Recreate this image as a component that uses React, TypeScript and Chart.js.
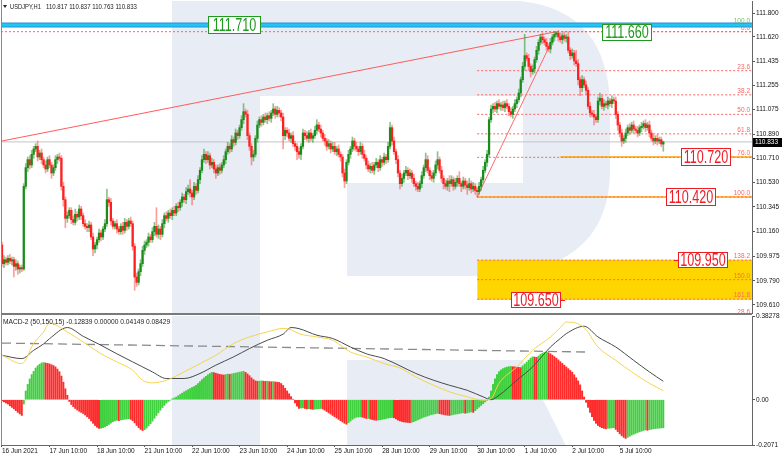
import React, { useEffect, useRef } from "react";
import { Chart, registerables } from "chart.js";

Chart.register(...registerables);

const FONT = '"Liberation Sans", Arial, Helvetica, sans-serif';

// ---------- x axis (hourly candles, index based) ----------
const xTickIdx = [0, 24, 48, 72, 96, 120, 144, 168, 192, 216, 240, 264, 288, 312];
const xTickLabels = [
  "16 Jun 2021", "17 Jun 10:00", "18 Jun 10:00", "21 Jun 10:00", "22 Jun 10:00",
  "23 Jun 10:00", "24 Jun 10:00", "25 Jun 10:00", "28 Jun 10:00", "29 Jun 10:00",
  "30 Jun 10:00", "1 Jul 10:00", "2 Jul 10:00", "5 Jul 10:00",
];
const X_MIN = -0.5;
const X_MAX = 378.8;

// ---------- price axis ----------
const priceTicks = [111.8, 111.62, 111.435, 111.255, 111.075, 110.89, 110.71, 110.53, 110.345, 110.16, 109.975, 109.79, 109.61];
const PRICE_MIN = 109.55;
const PRICE_MAX = 111.89;

// ---------- header ----------
const symbolLabel = "USDJPY,H1";
const lastOHLC = ["110.817", "110.837", "110.763", "110.833"];
const bidPrice = 110.833;

// ---------- candles ----------
const firstOpen = 110.06;
const closes = [
  109.92, 109.95, 109.93, 109.96, 109.94, 109.95, 109.90, 109.92, 109.88, 109.89, 109.88, 110.50, 110.64, 110.70, 110.66, 110.74, 110.78, 110.80, 110.72, 110.75, 110.70, 110.66, 110.63, 110.70,
  110.66, 110.60, 110.64, 110.70, 110.72, 110.71, 110.50, 110.40, 110.26, 110.28, 110.32, 110.25, 110.23, 110.29, 110.27, 110.33, 110.28, 110.22, 110.20, 110.19, 110.21, 110.12, 110.03, 110.06,
  110.10, 110.15, 110.12, 110.18, 110.22, 110.40, 110.38, 110.24, 110.20, 110.22, 110.18, 110.16, 110.20, 110.17, 110.23, 110.20, 110.24, 110.22, 110.05, 109.82, 109.78, 109.86, 109.92, 110.02,
  110.06, 110.08, 110.12, 110.10, 110.16, 110.20, 110.14, 110.18, 110.14, 110.22, 110.28, 110.26, 110.30, 110.28, 110.32, 110.30, 110.35, 110.34, 110.38, 110.42, 110.40, 110.46, 110.48, 110.45,
  110.42, 110.50, 110.47, 110.55, 110.62, 110.70, 110.74, 110.70, 110.73, 110.66, 110.68, 110.63, 110.60, 110.64, 110.62, 110.66, 110.70, 110.76, 110.80, 110.78, 110.85, 110.83, 110.90, 110.88,
  110.94, 111.00, 111.06, 111.04, 110.88, 110.80, 110.72, 110.74, 110.86, 110.96, 111.00, 110.98, 111.02, 111.00, 111.03, 111.01, 111.05, 111.08, 111.04, 111.07, 111.05, 111.02, 110.88, 110.92,
  110.90, 110.86, 110.88, 110.82, 110.80, 110.76, 110.74, 110.80, 110.90, 110.88, 110.86, 110.90, 110.86, 110.88, 110.92, 110.96, 110.93, 110.90, 110.86, 110.84, 110.80, 110.82, 110.78, 110.80,
  110.76, 110.78, 110.74, 110.72, 110.60, 110.54, 110.68, 110.74, 110.78, 110.84, 110.80, 110.78, 110.76, 110.80, 110.74, 110.71, 110.66, 110.63, 110.65, 110.62, 110.66, 110.68, 110.64, 110.70,
  110.68, 110.72, 110.70, 110.80, 110.94, 110.84, 110.76, 110.70, 110.60, 110.52, 110.56, 110.60, 110.62, 110.58, 110.60, 110.56, 110.52, 110.50, 110.48, 110.52, 110.58, 110.64, 110.70, 110.62,
  110.58, 110.56, 110.60, 110.66, 110.70, 110.62, 110.56, 110.52, 110.50, 110.54, 110.52, 110.55, 110.50, 110.53, 110.56, 110.52, 110.50, 110.54, 110.51, 110.49, 110.52, 110.48, 110.50, 110.47,
  110.46, 110.50, 110.55, 110.62, 110.68, 110.74, 111.00, 111.08, 111.10, 111.08, 111.12, 111.10, 111.11, 111.09, 111.12, 111.10, 111.06, 111.04, 111.08, 111.12, 111.15, 111.20, 111.30, 111.40,
  111.48, 111.46, 111.40, 111.36, 111.38, 111.45, 111.52, 111.58, 111.62, 111.60, 111.58, 111.55, 111.53, 111.58, 111.62, 111.64, 111.65, 111.62, 111.60, 111.63, 111.61, 111.62, 111.52, 111.48,
  111.50, 111.44, 111.42, 111.30, 111.24, 111.30, 111.26, 111.22, 111.10, 111.05, 111.04, 111.02, 111.00, 111.14, 111.16, 111.10, 111.12, 111.11, 111.14, 111.12, 111.15, 111.14, 111.04, 110.96,
  110.90, 110.84, 110.86, 110.90, 110.94, 110.92, 110.96, 110.93, 110.92, 110.90, 110.94, 110.95, 110.97, 110.94, 110.96, 110.90, 110.86, 110.84, 110.86, 110.84, 110.85, 110.817, 110.833,
];
// wick lengths beyond the body, in 0.01 yen
const wickUp = [
  2, 3, 2, 2, 3, 2, 2, 3, 2, 2, 2, 2, 3, 2, 3, 3, 2, 2, 4, 2, 3, 2, 3, 2,
  3, 2, 2, 3, 2, 3, 2, 3, 2, 3, 2, 2, 3, 4, 2, 3, 2, 2, 3, 2, 3, 2, 3, 2,
  2, 3, 2, 2, 3, 8, 2, 3, 2, 2, 3, 2, 2, 3, 3, 2, 2, 3, 2, 2, 3, 2, 3, 3,
  3, 2, 3, 2, 3, 3, 14, 3, 2, 3, 2, 3, 2, 3, 2, 3, 2, 3, 2, 3, 2, 3, 3, 7,
  2, 3, 2, 3, 2, 3, 4, 2, 3, 2, 3, 2, 3, 2, 3, 2, 3, 2, 3, 2, 3, 2, 3, 2,
  2, 3, 6, 2, 3, 2, 2, 3, 2, 3, 2, 3, 2, 3, 2, 3, 2, 4, 2, 3, 2, 2, 3, 2,
  2, 3, 2, 3, 2, 2, 3, 2, 3, 2, 3, 2, 3, 2, 3, 4, 2, 3, 2, 3, 2, 3, 2, 3,
  3, 2, 3, 2, 2, 3, 2, 3, 2, 3, 2, 3, 2, 3, 2, 3, 2, 3, 2, 3, 2, 3, 2, 3,
  2, 3, 2, 3, 4, 2, 3, 2, 3, 2, 3, 2, 3, 2, 3, 2, 3, 2, 3, 2, 3, 2, 5, 3,
  2, 3, 2, 3, 6, 2, 3, 2, 3, 2, 4, 3, 2, 3, 2, 5, 2, 3, 2, 3, 4, 2, 3, 2,
  2, 3, 2, 3, 2, 3, 2, 3, 2, 3, 2, 3, 2, 3, 2, 3, 2, 3, 2, 3, 2, 3, 2, 3,
  16, 2, 3, 2, 3, 2, 3, 2, 2, 3, 2, 3, 2, 3, 2, 2, 1, 2, 3, 2, 3, 2, 4, 2,
  3, 2, 8, 3, 2, 3, 2, 3, 2, 3, 2, 3, 2, 3, 4, 2, 3, 2, 3, 2, 3, 2, 3, 2,
  2, 3, 2, 3, 2, 3, 2, 3, 2, 3, 2, 3, 2, 3, 2, 3, 2, 3, 2, 3, 2, 2, 0.4,
];
const wickDown = [
  2, 3, 2, 2, 2, 3, 8, 3, 4, 3, 2, 1, 2, 3, 3, 2, 3, 2, 3, 2, 3, 2, 3, 2,
  2, 4, 2, 2, 3, 2, 3, 5, 7, 3, 2, 3, 2, 2, 3, 2, 3, 2, 2, 3, 3, 2, 5, 3,
  3, 2, 3, 2, 2, 2, 3, 3, 2, 2, 3, 2, 2, 3, 2, 3, 2, 2, 3, 10, 3, 2, 3, 2,
  3, 2, 3, 2, 2, 3, 2, 3, 4, 2, 3, 2, 3, 2, 3, 2, 2, 3, 2, 3, 2, 3, 2, 3,
  6, 2, 3, 2, 3, 2, 2, 3, 2, 3, 2, 3, 4, 2, 3, 2, 2, 3, 2, 3, 2, 3, 2, 3,
  2, 2, 3, 2, 3, 3, 6, 3, 2, 3, 2, 3, 2, 2, 3, 2, 3, 2, 3, 2, 3, 3, 10, 3,
  3, 2, 3, 2, 3, 6, 3, 4, 2, 3, 2, 3, 2, 3, 2, 3, 2, 3, 2, 3, 3, 2, 3, 2,
  2, 3, 2, 3, 3, 5, 2, 2, 3, 2, 3, 2, 3, 2, 3, 2, 3, 2, 3, 2, 3, 2, 3, 2,
  3, 2, 3, 2, 2, 3, 2, 3, 3, 4, 2, 3, 2, 3, 2, 3, 2, 3, 2, 2, 3, 2, 3, 2,
  3, 2, 3, 2, 3, 2, 3, 4, 2, 3, 6, 2, 3, 2, 3, 2, 4, 2, 3, 5, 2, 3, 2, 3,
  4, 2, 3, 2, 2, 3, 2, 2, 3, 2, 3, 2, 3, 2, 3, 2, 3, 2, 3, 2, 3, 2, 3, 2,
  3, 2, 3, 4, 2, 3, 2, 3, 2, 3, 2, 3, 2, 3, 2, 3, 2, 3, 2, 3, 2, 3, 2, 3,
  2, 3, 2, 4, 6, 3, 2, 3, 2, 3, 2, 6, 2, 2, 3, 2, 3, 2, 3, 2, 3, 2, 3, 4,
  3, 4, 2, 3, 2, 3, 2, 3, 2, 3, 2, 3, 2, 3, 2, 3, 2, 3, 2, 3, 2, 2, 5.4,
];

// ---------- chart objects ----------
const trendIdx = [0, 280];
const trendPrice = [110.84, 111.66];
const fibIdx = [240, 280];
const fibPrice = [110.42, 111.66];
const fibLevels = [0, 23.6, 38.2, 50, 61.8, 76, 100, 138.2, 150, 161.8];
const cyanPrice = 111.71;
const redLinePrice = 111.66;
const level76Price = 110.72;
const level76Start = 282;
const level100Price = 110.42;
const zonePrices = [109.95, 109.65];

// ---------- MACD ----------
const macdTitle = "MACD-2 (50,150,15)";
const macdTitleValues = ["-0.12839", "0.00000", "0.04149", "0.08429"];
const MACD_MIN = -0.2071;
const MACD_MAX = 0.38278;
const macdTicks = [0.38278, 0, -0.2071];
const macdTickLabels = ["0.38278", "0.00", "-0.2071"];
const macdHist = [
  -0.005, -0.010, -0.015, -0.020, -0.028, -0.035, -0.042, -0.050, -0.058, -0.065, -0.072, -0.020, 0.040, 0.070, 0.095, 0.115, 0.130, 0.145, 0.155, 0.162, 0.168, 0.170, 0.168, 0.166,
  0.164, 0.160, 0.156, 0.150, 0.140, 0.128, 0.108, 0.080, 0.050, 0.020, -0.008, -0.022, -0.032, -0.040, -0.047, -0.053, -0.058, -0.063, -0.070, -0.078, -0.086, -0.097, -0.108, -0.118,
  -0.126, -0.131, -0.130, -0.128, -0.124, -0.119, -0.113, -0.107, -0.101, -0.097, -0.094, -0.096, -0.093, -0.091, -0.089, -0.088, -0.087, -0.090, -0.096, -0.106, -0.118, -0.128, -0.136, -0.141,
  -0.137, -0.130, -0.120, -0.110, -0.098, -0.085, -0.072, -0.060, -0.048, -0.036, -0.026, -0.016, -0.008, -0.002, 0.004, 0.008, 0.012, 0.018, 0.024, 0.030, 0.036, 0.041, 0.046, 0.051,
  0.056, 0.060, 0.066, 0.074, 0.083, 0.092, 0.100, 0.107, 0.114, 0.120, 0.125, 0.124, 0.121, 0.118, 0.116, 0.114, 0.113, 0.115, 0.117, 0.116, 0.118, 0.120, 0.122, 0.124,
  0.126, 0.128, 0.130, 0.125, 0.118, 0.110, 0.100, 0.092, 0.086, 0.084, 0.085, 0.086, 0.085, 0.084, 0.085, 0.083, 0.082, 0.083, 0.081, 0.080, 0.079, 0.074, 0.065, 0.052,
  0.040, 0.027, 0.014, 0.002, -0.015, -0.030, -0.040, -0.038, -0.037, -0.040, -0.042, -0.041, -0.043, -0.044, -0.043, -0.042, -0.041, -0.040, -0.043, -0.048, -0.054, -0.060, -0.066, -0.072,
  -0.078, -0.084, -0.090, -0.096, -0.102, -0.108, -0.112, -0.105, -0.098, -0.090, -0.084, -0.080, -0.079, -0.078, -0.080, -0.083, -0.086, -0.085, -0.088, -0.091, -0.093, -0.094, -0.093, -0.092,
  -0.090, -0.088, -0.086, -0.084, -0.082, -0.081, -0.083, -0.088, -0.093, -0.097, -0.100, -0.102, -0.103, -0.104, -0.105, -0.103, -0.100, -0.096, -0.092, -0.088, -0.084, -0.080, -0.077, -0.074,
  -0.071, -0.068, -0.066, -0.064, -0.062, -0.064, -0.066, -0.068, -0.070, -0.071, -0.072, -0.070, -0.068, -0.066, -0.065, -0.063, -0.061, -0.060, -0.062, -0.060, -0.058, -0.056, -0.058, -0.050,
  -0.042, -0.034, -0.026, -0.018, -0.010, -0.003, 0.012, 0.040, 0.070, 0.095, 0.115, 0.128, 0.136, 0.142, 0.146, 0.149, 0.151, 0.152, 0.151, 0.150, 0.149, 0.148, 0.147, 0.155,
  0.163, 0.172, 0.181, 0.190, 0.196, 0.195, 0.194, 0.200, 0.207, 0.213, 0.216, 0.219, 0.215, 0.210, 0.204, 0.197, 0.190, 0.182, 0.174, 0.166, 0.158, 0.150, 0.142, 0.134,
  0.126, 0.114, 0.100, 0.086, 0.068, 0.040, 0.012, -0.012, -0.035, -0.058, -0.078, -0.095, -0.108, -0.118, -0.124, -0.128, -0.131, -0.133, -0.131, -0.130, -0.129, -0.128, -0.136, -0.146,
  -0.156, -0.165, -0.172, -0.177, -0.172, -0.167, -0.162, -0.158, -0.154, -0.150, -0.147, -0.144, -0.141, -0.138, -0.140, -0.137, -0.135, -0.133, -0.132, -0.131, -0.130, -0.129, -0.12839,
];
const macdLineIdx = [0, 10, 16, 21, 24, 33, 41, 50, 58, 66, 71, 76, 83, 92, 100, 108, 117, 125, 134, 142, 146, 150, 159, 167, 176, 184, 193, 201, 209, 218, 226, 235, 243, 247, 251, 260, 268, 277, 282, 285, 294, 301, 310, 319, 327, 334];
const macdYellow = [0.203, 0.165, 0.257, 0.31, 0.35, 0.31, 0.264, 0.21, 0.173, 0.135, 0.089, 0.077, 0.089, 0.127, 0.165, 0.203, 0.257, 0.287, 0.31, 0.326, 0.32, 0.302, 0.287, 0.272, 0.218, 0.196, 0.165, 0.145, 0.104, 0.066, 0.036, 0.013, -0.002, 0.005, 0.075, 0.15, 0.226, 0.287, 0.33, 0.355, 0.33, 0.241, 0.18, 0.121, 0.075, 0.04149];
const macdBlack = [0.203, 0.188, 0.226, 0.255, 0.279, 0.33, 0.29, 0.249, 0.21, 0.173, 0.15, 0.127, 0.097, 0.097, 0.12, 0.158, 0.196, 0.234, 0.272, 0.30, 0.33, 0.325, 0.295, 0.28, 0.241, 0.21, 0.188, 0.155, 0.12, 0.089, 0.066, 0.043, 0.013, 0.0, 0.02, 0.089, 0.15, 0.241, 0.28, 0.302, 0.336, 0.287, 0.241, 0.18, 0.127, 0.08429];
const macdDashIdx = [0, 296];
const macdDash = [0.259, 0.218];

// ---------- colours ----------
const UP = "#1b8c1b";
const DOWN = "#ff1f1f";
const UP_WICK = "rgba(40,150,40,0.55)";
const DOWN_WICK = "rgba(255,60,60,0.5)";
const HIST_UP = "#3fcf3f";
const HIST_DOWN = "#ff2b2b";
const WATERMARK = "#e8ecf4";
const FIB_RED = "#ff6464";
const LABEL_RED = "#ee1c25";
const LABEL_GREEN = "#1f9a1f";

// ---------- helpers ----------
const opens = closes.map((c, i) => (i === 0 ? firstOpen : closes[i - 1]));
const highs = closes.map((c, i) => Math.max(opens[i], c) + wickUp[i] / 100);
const lows = closes.map((c, i) => Math.min(opens[i], c) - wickDown[i] / 100);
const fibHigh = fibPrice[1];
const fibLow = fibPrice[0];
const fibLevelPrice = (lvl: number) => fibHigh - ((fibHigh - fibLow) * lvl) / 100;

function hline(price: number, from: number, to: number, color: string, width: number, dash: number[], order: number) {
  return {
    type: "line",
    data: [{ x: from, y: price }, { x: to, y: price }],
    borderColor: color,
    borderWidth: width,
    borderDash: dash,
    pointRadius: 0,
    fill: false,
    order,
  };
}

function sText(ctx: any, text: string, x: number, y: number, size: number, color: string, sx = 1, align = "left", baseline = "middle") {
  ctx.save();
  ctx.font = `${size}px ${FONT}`;
  ctx.fillStyle = color;
  ctx.textAlign = align;
  ctx.textBaseline = baseline;
  ctx.translate(x, y);
  ctx.scale(sx, 1);
  ctx.fillText(text, 0, 0);
  ctx.restore();
}

function drawWatermark(chart: any, offY: number) {
  const ctx = chart.ctx;
  const a = chart.chartArea;
  ctx.save();
  ctx.beginPath();
  ctx.rect(a.left, a.top, a.right - a.left, a.bottom - a.top);
  ctx.clip();
  ctx.translate(0, -offY);
  ctx.fillStyle = WATERMARK;
  ctx.fillRect(172, 0, 88, 446);
  ctx.beginPath();
  ctx.moveTo(260, 0);
  ctx.lineTo(500, 0);
  ctx.quadraticCurveTo(610, 0, 610, 110);
  ctx.lineTo(610, 170);
  ctx.quadraticCurveTo(610, 278, 470, 276);
  ctx.lineTo(347, 276);
  ctx.lineTo(347, 183);
  ctx.lineTo(523, 183);
  ctx.lineTo(523, 96);
  ctx.lineTo(260, 96);
  ctx.closePath();
  ctx.fill();
  ctx.beginPath();
  ctx.moveTo(347, 360);
  ctx.lineTo(523, 360);
  ctx.lineTo(566, 446);
  ctx.lineTo(347, 446);
  ctx.closePath();
  ctx.fill();
  ctx.restore();
}

function priceBox(ctx: any, ys: any, price: number, x: number, w: number, h: number, color: string) {
  const yc = Math.round(ys.getPixelForValue(price));
  const top = yc - Math.floor(h / 2);
  ctx.save();
  ctx.fillStyle = "#ffffff";
  ctx.fillRect(x, top, w, h);
  ctx.strokeStyle = color;
  ctx.lineWidth = 1;
  ctx.strokeRect(x + 0.5, top + 0.5, w - 1, h - 1);
  ctx.restore();
  sText(ctx, price.toFixed(3), x + w / 2, yc + 1, 18, color, 0.7, "center");
}

const mainDecor = {
  id: "mainDecor",
  beforeDatasetsDraw(chart: any) {
    drawWatermark(chart, 0);
  },
  afterDraw(chart: any) {
    const ctx = chart.ctx;
    const ys = chart.scales.y;
    const a = chart.chartArea;
    ctx.save();
    // left border
    ctx.fillStyle = "#8a8a8a";
    ctx.fillRect(1, 0, 1, a.bottom);
    // fib level labels
    sText(ctx, "100.0", a.right - 2, ys.getPixelForValue(cyanPrice) - 1, 6.5, "#6fbf6f", 1, "right", "bottom");
    fibLevels.forEach((lvl) => {
      sText(ctx, lvl.toFixed(1), a.right - 2, ys.getPixelForValue(fibLevelPrice(lvl)) - 0.5, 6.5, FIB_RED, 1, "right", "bottom");
    });
    sText(ctx, "28.6", a.right - 2, a.bottom - 1, 6.5, FIB_RED, 1, "right", "middle");
    // price boxes
    priceBox(ctx, ys, cyanPrice, 208, 53, 18, LABEL_GREEN);
    priceBox(ctx, ys, redLinePrice, 602, 50, 17, LABEL_GREEN);
    priceBox(ctx, ys, level76Price, 681, 50, 18, LABEL_RED);
    priceBox(ctx, ys, level100Price, 666, 50, 18, LABEL_RED);
    priceBox(ctx, ys, zonePrices[0], 678, 50, 16, LABEL_RED);
    priceBox(ctx, ys, zonePrices[1], 511, 50, 16, LABEL_RED);
    ctx.strokeStyle = LABEL_RED;
    ctx.lineWidth = 1;
    ctx.beginPath();
    const yz0 = Math.round(ys.getPixelForValue(zonePrices[0])) + 0.5;
    const yz1 = Math.round(ys.getPixelForValue(zonePrices[1])) + 0.5;
    ctx.moveTo(674, yz0);
    ctx.lineTo(678, yz0);
    ctx.moveTo(561, yz1);
    ctx.lineTo(565, yz1);
    ctx.stroke();
    // bid label
    const yb = Math.round(ys.getPixelForValue(bidPrice));
    ctx.fillStyle = "#000";
    ctx.fillRect(a.right + 1, yb - 4, 30, 9);
    sText(ctx, bidPrice.toFixed(3), a.right + 3, yb + 0.5, 6.5, "#fff");
    // header
    ctx.fillStyle = "#222";
    ctx.beginPath();
    ctx.moveTo(3, 5);
    ctx.lineTo(7, 5);
    ctx.lineTo(5, 8);
    ctx.closePath();
    ctx.fill();
    sText(ctx, symbolLabel, 10, 6.5, 7.4, "#222", 0.78);
    sText(ctx, lastOHLC.join(" "), 46, 6.5, 7.4, "#222", 0.82);
    ctx.restore();
  },
};

const macdDecor = {
  id: "macdDecor",
  beforeDatasetsDraw(chart: any) {
    drawWatermark(chart, 305);
  },
  afterDraw(chart: any) {
    const ctx = chart.ctx;
    const a = chart.chartArea;
    ctx.save();
    ctx.fillStyle = "#7a7a7a";
    ctx.fillRect(1, a.top - 3, a.right - 1, 2);
    ctx.fillStyle = "#8a8a8a";
    ctx.fillRect(1, a.top - 1, 1, a.bottom - a.top + 1);
    sText(ctx, `${macdTitle} ${macdTitleValues.join(" ")}`, 3, a.top + 6, 7, "#222", 0.95);
    ctx.restore();
  },
};

const axisFont = { family: FONT, size: 6.5 };

export default function App() {
  const refA = useRef<HTMLCanvasElement>(null);
  const refB = useRef<HTMLCanvasElement>(null);

  useEffect(() => {
    const bodies = closes.map((c, i) => ({ x: i, y: [opens[i], c] }));
    const wicks = closes.map((c, i) => ({ x: i, y: [lows[i], highs[i]] }));
    const bodyColors = closes.map((c, i) => (c >= opens[i] ? UP : DOWN));
    const wickColors = closes.map((c, i) => (c >= opens[i] ? UP_WICK : DOWN_WICK));

    const fibDatasets = fibLevels.map((lvl) => hline(fibLevelPrice(lvl), fibIdx[0], X_MAX, FIB_RED, 1, [2, 2], 15));

    const chartA = new Chart(refA.current as any, {
      type: "bar",
      data: {
        datasets: [
          {
            type: "line",
            data: [{ x: fibIdx[0], y: zonePrices[0] }, { x: X_MAX, y: zonePrices[0] }],
            borderWidth: 0,
            pointRadius: 0,
            backgroundColor: "#ffd500",
            fill: "+1",
            order: 20,
          },
          {
            type: "line",
            data: [{ x: fibIdx[0], y: zonePrices[1] }, { x: X_MAX, y: zonePrices[1] }],
            borderWidth: 0,
            pointRadius: 0,
            fill: false,
            order: 20,
          },
          hline(level76Price, level76Start, X_MAX, "#ffa800", 1.5, [], 16),
          hline(level100Price, fibIdx[0], X_MAX, "#ffa800", 1.5, [], 16),
          ...fibDatasets,
          hline(redLinePrice, X_MIN, X_MAX, FIB_RED, 1, [2, 2], 15),
          hline(cyanPrice, X_MIN, X_MAX, "#2a8fd6", 5, [], 13),
          hline(cyanPrice, X_MIN, X_MAX, "#1ec8f2", 3, [], 12),
          hline(bidPrice, X_MIN, X_MAX, "#c4c4c4", 1, [], 12),
          {
            type: "line",
            data: trendIdx.map((x, k) => ({ x, y: trendPrice[k] })),
            borderColor: "#ff5c5c",
            borderWidth: 1,
            pointRadius: 0,
            fill: false,
            order: 11,
          },
          {
            type: "line",
            data: fibIdx.map((x, k) => ({ x, y: fibPrice[k] })),
            borderColor: "#ff6a6a",
            borderWidth: 1,
            pointRadius: 0,
            fill: false,
            order: 11,
          },
          {
            type: "bar",
            data: wicks,
            backgroundColor: wickColors,
            barThickness: 1,
            grouped: false,
            order: 2,
          },
          {
            type: "bar",
            data: bodies,
            backgroundColor: bodyColors,
            barThickness: 1.6,
            minBarLength: 1,
            grouped: false,
            order: 1,
          },
        ] as any,
      },
      options: {
        animation: false,
        responsive: false,
        maintainAspectRatio: false,
        events: [],
        layout: { padding: { left: 1, top: 1, right: 0, bottom: 2 } },
        plugins: { legend: { display: false }, tooltip: { enabled: false } },
        scales: {
          x: { type: "linear", min: X_MIN, max: X_MAX, offset: false, display: false },
          y: {
            position: "right",
            min: PRICE_MIN,
            max: PRICE_MAX,
            afterFit: (s: any) => {
              s.width = 30;
              s.paddingTop = 0;
              s.paddingBottom = 0;
            },
            afterBuildTicks: (s: any) => {
              s.ticks = priceTicks.map((v) => ({ value: v }));
            },
            ticks: {
              callback: (v: any) => Number(v).toFixed(3),
              font: axisFont,
              color: "#111",
              padding: 1,
              autoSkip: false,
              maxRotation: 0,
            },
            grid: { drawOnChartArea: false, drawTicks: true, tickLength: 3, color: "#555" },
            border: { display: true, color: "#666" },
          },
        },
      } as any,
      plugins: [mainDecor],
    });

    const histColors = macdHist.map((v, i) => (i > 0 && v >= macdHist[i - 1] ? HIST_UP : HIST_DOWN));

    const chartB = new Chart(refB.current as any, {
      type: "bar",
      data: {
        datasets: [
          {
            type: "line",
            data: macdLineIdx.map((x, k) => ({ x, y: macdYellow[k] })),
            borderColor: "#f7d44c",
            borderWidth: 1,
            pointRadius: 0,
            cubicInterpolationMode: "monotone",
            fill: false,
            order: 0,
          },
          {
            type: "line",
            data: macdLineIdx.map((x, k) => ({ x, y: macdBlack[k] })),
            borderColor: "#4a4a4a",
            borderWidth: 1,
            pointRadius: 0,
            cubicInterpolationMode: "monotone",
            fill: false,
            order: 1,
          },
          {
            type: "line",
            data: macdDashIdx.map((x, k) => ({ x, y: macdDash[k] })),
            borderColor: "#8a8a8a",
            borderWidth: 1.3,
            borderDash: [9, 5],
            pointRadius: 0,
            fill: false,
            order: 2,
          },
          {
            type: "bar",
            data: macdHist.map((v, i) => ({ x: i, y: v })),
            backgroundColor: histColors,
            barThickness: 1.3,
            grouped: false,
            order: 3,
          },
        ] as any,
      },
      options: {
        animation: false,
        responsive: false,
        maintainAspectRatio: false,
        events: [],
        layout: { padding: { left: 1, top: 11, right: 0, bottom: 0 } },
        plugins: { legend: { display: false }, tooltip: { enabled: false } },
        scales: {
          x: {
            type: "linear",
            min: X_MIN,
            max: X_MAX,
            offset: false,
            position: "bottom",
            afterFit: (s: any) => {
              s.height = 12;
              s.paddingLeft = 0;
              s.paddingRight = 0;
            },
            afterBuildTicks: (s: any) => {
              s.ticks = xTickIdx.map((v) => ({ value: v }));
            },
            ticks: {
              callback: (v: any, i: number) => xTickLabels[i],
              align: "start",
              maxRotation: 0,
              minRotation: 0,
              autoSkip: false,
              font: axisFont,
              color: "#111",
              padding: 0,
            },
            grid: { drawOnChartArea: false, drawTicks: true, tickLength: 2, color: "#555", offset: false },
            border: { display: true, color: "#666" },
          },
          y: {
            position: "right",
            min: MACD_MIN,
            max: MACD_MAX,
            afterFit: (s: any) => {
              s.width = 30;
              s.paddingTop = 0;
              s.paddingBottom = 0;
            },
            afterBuildTicks: (s: any) => {
              s.ticks = macdTicks.map((v) => ({ value: v }));
            },
            ticks: {
              callback: (v: any, i: number) => macdTickLabels[i],
              font: axisFont,
              color: "#111",
              padding: 1,
              autoSkip: false,
            },
            grid: { drawOnChartArea: false, drawTicks: true, tickLength: 3, color: "#555" },
            border: { display: true, color: "#666" },
          },
        },
      } as any,
      plugins: [macdDecor],
    });

    return () => {
      chartA.destroy();
      chartB.destroy();
    };
  }, []);

  return (
    <div style={{ position: "fixed", left: 0, top: 0, width: 782, height: 457, background: "#fff", overflow: "hidden" }}>
      <canvas ref={refA} width={782} height={315} style={{ position: "absolute", left: 0, top: 0, width: 782, height: 315 }} />
      <canvas ref={refB} width={782} height={152} style={{ position: "absolute", left: 0, top: 305, width: 782, height: 152 }} />
    </div>
  );
}
